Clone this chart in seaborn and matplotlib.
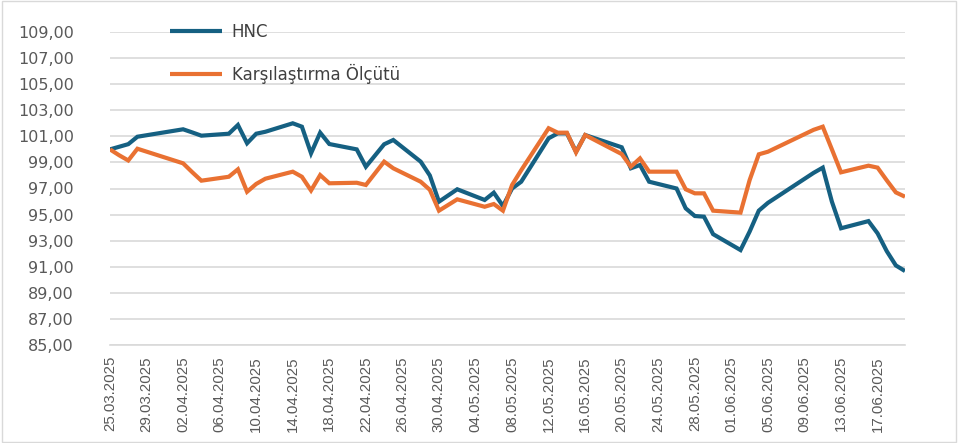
import pandas as pd
import numpy as np
import matplotlib
matplotlib.use("Agg")
import matplotlib.pyplot as plt
from matplotlib import font_manager
from matplotlib.patches import Rectangle
import seaborn as sns

# Trading days shown on the chart
dates = [
    "25.03.2025", "26.03.2025", "27.03.2025", "28.03.2025",
    "02.04.2025", "03.04.2025", "04.04.2025",
    "07.04.2025", "08.04.2025", "09.04.2025", "10.04.2025", "11.04.2025",
    "14.04.2025", "15.04.2025", "16.04.2025", "17.04.2025", "18.04.2025",
    "21.04.2025", "22.04.2025", "24.04.2025", "25.04.2025",
    "28.04.2025", "29.04.2025", "30.04.2025", "02.05.2025",
    "05.05.2025", "06.05.2025", "07.05.2025", "08.05.2025", "09.05.2025",
    "12.05.2025", "13.05.2025", "14.05.2025", "15.05.2025", "16.05.2025",
    "20.05.2025", "21.05.2025", "22.05.2025", "23.05.2025",
    "26.05.2025", "27.05.2025", "28.05.2025", "29.05.2025", "30.05.2025",
    "02.06.2025", "03.06.2025", "04.06.2025", "05.06.2025",
    "10.06.2025", "11.06.2025", "12.06.2025", "13.06.2025",
    "16.06.2025", "17.06.2025", "18.06.2025", "19.06.2025", "20.06.2025",
]

hnc = [
    100.00, 100.20, 100.40, 100.97,
    101.54, 101.30, 101.05,
    101.20, 101.87, 100.47, 101.20, 101.35,
    102.00, 101.74, 99.70, 101.28, 100.41,
    100.00, 98.67, 100.39, 100.72,
    99.06, 98.00, 95.99, 96.94,
    96.12, 96.68, 95.66, 97.00, 97.52,
    100.85, 101.23, 101.23, 99.82, 101.10,
    100.16, 98.55, 98.80, 97.52,
    97.00, 95.48, 94.89, 94.84, 93.50,
    92.28, 93.70, 95.30, 95.90,
    98.20, 98.60, 95.99, 93.95,
    94.50, 93.56, 92.20, 91.10, 90.67,
]

benchmark = [
    100.00, 99.55, 99.15, 100.05,
    98.93, 98.25, 97.60,
    97.90, 98.47, 96.75, 97.35, 97.75,
    98.29, 97.90, 96.85, 98.03, 97.40,
    97.44, 97.27, 99.06, 98.55,
    97.52, 96.90, 95.30, 96.17,
    95.60, 95.81, 95.30, 97.27, 98.40,
    101.62, 101.28, 101.28, 99.77, 101.10,
    99.64, 98.67, 99.31, 98.29,
    98.29, 96.94, 96.63, 96.63, 95.30,
    95.15, 97.65, 99.62, 99.82,
    101.50, 101.74, 100.00, 98.24,
    98.75, 98.60, 97.63, 96.70, 96.37,
]

series_names = ["HNC", "Karşılaştırma Ölçütü"]
colors = ["#156082", "#E97132"]
y_ticks = list(range(85, 111, 2))

dt = pd.to_datetime(dates, format="%d.%m.%Y")
df = pd.concat([
    pd.DataFrame({"Tarih": dt, "Değer": hnc, "Seri": series_names[0]}),
    pd.DataFrame({"Tarih": dt, "Değer": benchmark, "Seri": series_names[1]}),
], ignore_index=True)

sns.set_style("white")
plt.rcParams["font.family"] = ["DejaVu Sans"]

# pick a narrow face for the date labels, if one is available
installed = {f.name for f in font_manager.fontManager.ttflist}
if "Liberation Sans Narrow" in installed:
    date_font, date_size = "Liberation Sans Narrow", 13
elif "DejaVu Sans Condensed" in installed:
    date_font, date_size = "DejaVu Sans Condensed", 10.5
else:
    date_font, date_size = "Liberation Sans", 10.8

fig = plt.figure(figsize=(9.58, 4.43), dpi=100)
ax = fig.add_axes([110 / 958, 1 - 345 / 443, 795 / 958, 313 / 443])

sns.lineplot(data=df, x="Tarih", y="Değer", hue="Seri",
             palette=dict(zip(series_names, colors)), linewidth=3.0,
             solid_joinstyle="miter", solid_capstyle="butt", ax=ax)

ax.set_ylim(85, 109)
ax.set_yticks(y_ticks)
ax.set_yticklabels([f"{v:.2f}".replace(".", ",") for v in y_ticks])
ax.grid(axis="y", color="#d9d9d9", linewidth=1.2)
ax.grid(axis="x", visible=False)
ax.set_axisbelow(True)

start = pd.Timestamp("2025-03-25")
end = pd.Timestamp("2025-06-20")
ax.set_xlim(start, end)
xt = pd.date_range(start, pd.Timestamp("2025-06-17"), freq="4D")
ax.set_xticks(xt)
ax.set_xticklabels([d.strftime("%d.%m.%Y") for d in xt], rotation=90,
                   fontsize=date_size, color="#595959", family=date_font)

for s in ["top", "right", "left"]:
    ax.spines[s].set_visible(False)
ax.spines["bottom"].set_color("#d9d9d9")
ax.spines["bottom"].set_linewidth(1.2)
ax.tick_params(axis="x", direction="out", length=5, width=1.0, color="#d9d9d9", pad=3)
ax.tick_params(axis="y", length=0, pad=26, labelsize=11.5, labelcolor="#595959")
ax.set_xlabel("")
ax.set_ylabel("")

leg = ax.legend(loc="upper left", bbox_to_anchor=(60 / 795, 1.028), frameon=False,
                fontsize=12, handlelength=3.1, handletextpad=0.6,
                labelspacing=1.35, borderpad=0, borderaxespad=0)
for txt in leg.get_texts():
    txt.set_color("#404040")
for line in leg.get_lines():
    line.set_linewidth(3.0)

fig.patches.append(Rectangle((0.002, 0.002), 0.996, 0.996, transform=fig.transFigure,
                             fill=False, edgecolor="#d9d9d9", linewidth=1.0))

fig.savefig("out.png", dpi=100)
